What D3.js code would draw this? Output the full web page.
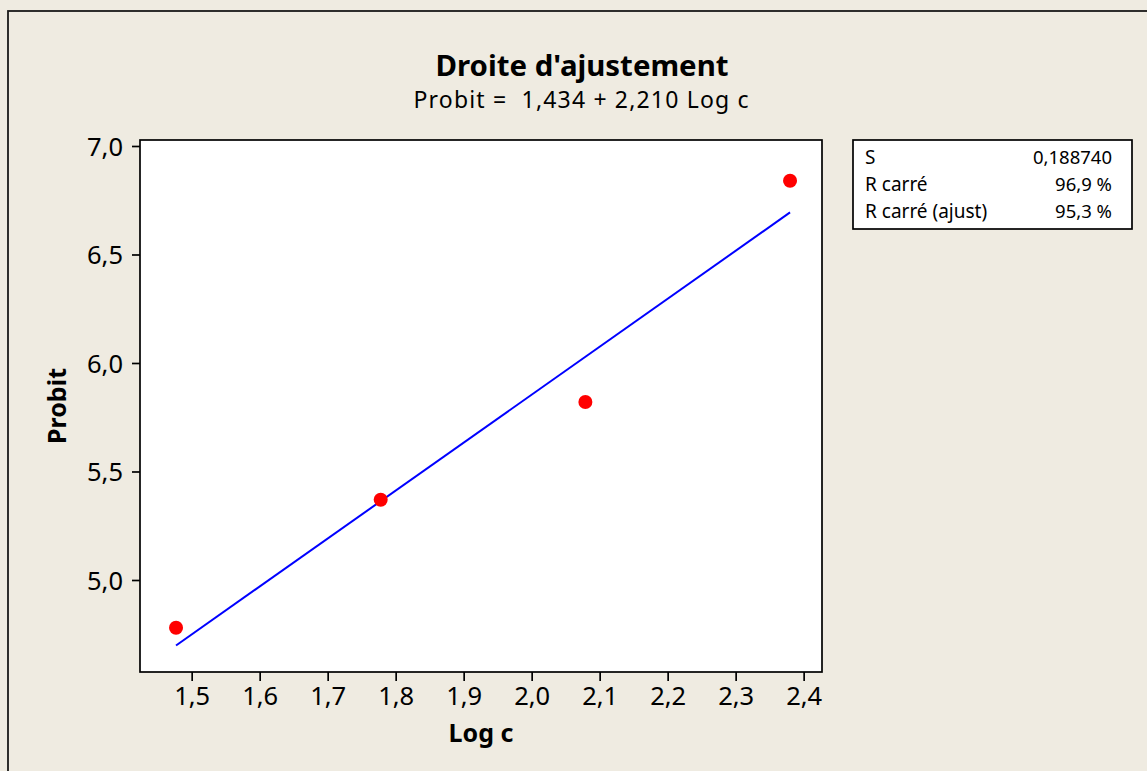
<!DOCTYPE html>
<html>
<head>
<meta charset="utf-8">
<script src="https://cdn.jsdelivr.net/npm/d3@7"></script>
<style>
  html, body { margin: 0; padding: 0; background: #efebe1; }
  svg { display: block; }
  text { font-family: "Noto Sans", "DejaVu Sans", sans-serif; fill: #000; }
</style>
</head>
<body>
<figure id="fit" style="margin:0"></figure>
<script>
// observed points
const logC = [1.477, 1.778, 2.079, 2.380];
const probit = [4.78, 5.37, 5.82, 6.84];

// fitted line Probit = a + b * Log c
const fitIntercept = 1.434;
const fitSlope = 2.210;

const xTicks = [1.5, 1.6, 1.7, 1.8, 1.9, 2.0, 2.1, 2.2, 2.3, 2.4];
const yTicks = [5.0, 5.5, 6.0, 6.5, 7.0];

const statLabels = ["S", "R carré", "R carré (ajust)"];
const statValues = ["0,188740", "96,9 %", "95,3 %"];

const width = 1147, height = 771;
const plot = { left: 140, right: 822, top: 140, bottom: 672 };

const fr = d3.formatLocale({ decimal: ",", thousands: " ", grouping: [3], currency: ["", " €"] });
const fmt = fr.format(".1f");

const svg = d3.select("figure#fit")
  .append("svg")
  .attr("width", width)
  .attr("height", height);

svg.append("rect")
  .attr("width", width).attr("height", height)
  .attr("fill", "#efebe1");

// outer frame (runs off the right and bottom edges)
svg.append("rect")
  .attr("x", 8).attr("y", 11)
  .attr("width", width + 20).attr("height", height + 20)
  .attr("fill", "none")
  .attr("stroke", "#1a1a1a")
  .attr("stroke-width", 1.8);

const x = d3.scaleLinear()
  .domain([1.424, 2.4270])
  .range([plot.left, plot.right]);

const y = d3.scaleLinear()
  .domain([4.576, 7.0276])
  .range([plot.bottom, plot.top]);

svg.append("rect")
  .attr("x", plot.left).attr("y", plot.top)
  .attr("width", plot.right - plot.left)
  .attr("height", plot.bottom - plot.top)
  .attr("fill", "#fff")
  .attr("stroke", "#000")
  .attr("stroke-width", 1.7);

const xAxis = svg.append("g")
  .attr("transform", `translate(0,${plot.bottom})`)
  .call(d3.axisBottom(x).tickValues(xTicks).tickFormat(fmt).tickSize(9).tickSizeOuter(0).tickPadding(6));

const yAxis = svg.append("g")
  .attr("transform", `translate(${plot.left},0)`)
  .call(d3.axisLeft(y).tickValues(yTicks).tickFormat(fmt).tickSize(8).tickSizeOuter(0).tickPadding(9));

[xAxis, yAxis].forEach(g => {
  g.select(".domain").remove();
  g.selectAll(".tick line").attr("stroke", "#000").attr("stroke-width", 1.7);
  g.selectAll(".tick text")
    .attr("font-family", "'Noto Sans', sans-serif")
    .attr("font-size", 25.5)
    .attr("fill", "#000");
});
yAxis.selectAll(".tick text").attr("dy", "0.36em");

// fitted line
const ends = d3.extent(logC);
svg.append("path")
  .datum(ends)
  .attr("d", d3.line()
    .x(d => x(d))
    .y(d => y(fitIntercept + fitSlope * d)))
  .attr("fill", "none")
  .attr("stroke", "#0000ff")
  .attr("stroke-width", 2);

// points
svg.selectAll("circle.pt")
  .data(logC)
  .enter()
  .append("circle")
  .attr("class", "pt")
  .attr("cx", d => x(d))
  .attr("cy", (d, i) => y(probit[i]))
  .attr("r", 7)
  .attr("fill", "#ff0000");

// titles
svg.append("text")
  .attr("x", 582).attr("y", 76)
  .attr("text-anchor", "middle")
  .attr("font-size", 28)
  .attr("font-weight", "bold")
  .attr("textLength", 293)
  .attr("lengthAdjust", "spacingAndGlyphs")
  .text("Droite d'ajustement");

svg.append("text")
  .attr("x", 581).attr("y", 108)
  .attr("text-anchor", "middle")
  .attr("font-size", 23)
  .attr("textLength", 335)
  .attr("lengthAdjust", "spacing")
  .style("white-space", "pre")
  .text(`Probit =  ${fr.format(".3f")(fitIntercept)} + ${fr.format(".3f")(fitSlope)} Log c`);

svg.append("text")
  .attr("x", (plot.left + plot.right) / 2).attr("y", 742)
  .attr("text-anchor", "middle")
  .attr("font-size", 25)
  .attr("font-weight", "bold")
  .text("Log c");

svg.append("text")
  .attr("transform", `translate(66,${(plot.top + plot.bottom) / 2}) rotate(-90)`)
  .attr("text-anchor", "middle")
  .attr("font-size", 25)
  .attr("font-weight", "bold")
  .text("Probit");

// stats box
const box = svg.append("g");
box.append("rect")
  .attr("x", 853).attr("y", 140)
  .attr("width", 279).attr("height", 89)
  .attr("fill", "#fff")
  .attr("stroke", "#000")
  .attr("stroke-width", 1.7);

box.selectAll("text.lbl")
  .data(statLabels)
  .enter()
  .append("text")
  .attr("class", "lbl")
  .attr("x", 865)
  .attr("y", (d, i) => 164 + i * 27)
  .attr("font-size", 19)
  .text(d => d);

box.selectAll("text.val")
  .data(statValues)
  .enter()
  .append("text")
  .attr("class", "val")
  .attr("x", 1112)
  .attr("y", (d, i) => 164 + i * 27)
  .attr("text-anchor", "end")
  .attr("font-size", 18.5)
  .text(d => d);
</script>
</body>
</html>
